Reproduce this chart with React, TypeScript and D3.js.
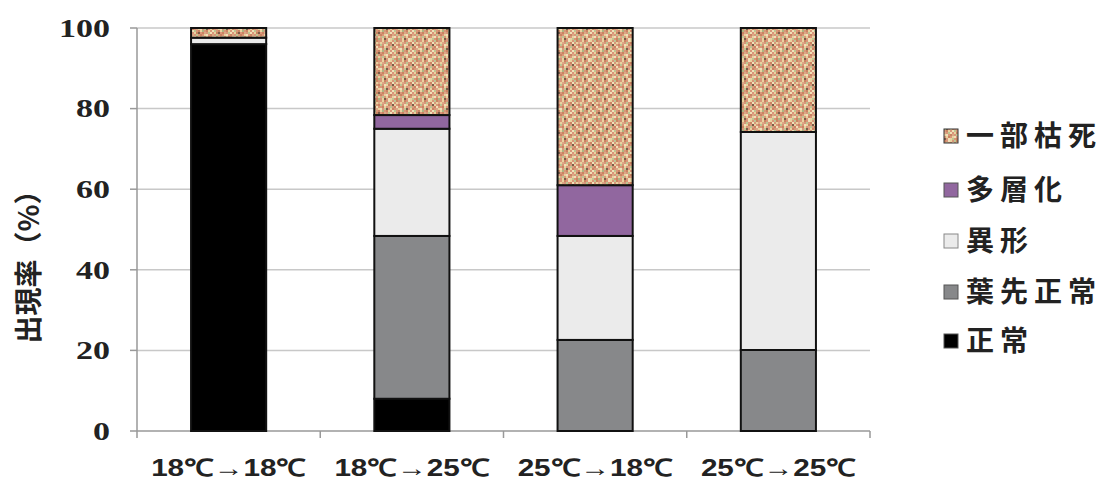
import React from "react";
import * as d3 from "d3";

const categories = ["18℃→18℃", "18℃→25℃", "25℃→18℃", "25℃→25℃"];
const seriesNames = ["正常", "葉先正常", "異形", "多層化", "一部枯死"];
const seriesNormal = [96, 8, 0, 0];
const seriesTipNormal = [0, 40.4, 22.6, 20.1];
const seriesAbnormal = [1.6, 26.6, 25.8, 54.1];
const seriesMulti = [0, 3.4, 12.6, 0];
const seriesDieback = [2.4, 21.6, 39, 25.8];
const yTicks = [0, 20, 40, 60, 80, 100];

const fills = ["#000000", "#87888a", "#ebebeb", "#91679f", "url(#dieback)"];

const W = 1107, H = 482;
const left = 137, right = 870, top = 28, bottom = 431;

export default function App() {
  const x = d3.scaleBand<string>().domain(categories).range([left, right]).paddingInner(0.59).paddingOuter(0.295);
  const y = d3.scaleLinear().domain([0, 100]).range([bottom, top]);
  const rows = categories.map((c, i) => ({
    cat: c,
    v: [seriesNormal[i], seriesTipNormal[i], seriesAbnormal[i], seriesMulti[i], seriesDieback[i]],
  }));
  const stacked = rows.map((r) => {
    let acc = 0;
    return r.v.map((v, k) => {
      const s = { k, y0: acc, y1: acc + v };
      acc += v;
      return s;
    });
  });
  const step = (right - left) / categories.length;
  const boundaries = d3.range(categories.length + 1).map((i) => left + i * step);

  const patCells: { x: number; y: number; c: string }[] = [];
  const palette = ["#d9967a", "#e9d2a0", "#c98462", "#bcc692", "#f0e0b8", "#7a5e48", "#dba886", "#aab682"];
  const pat = [
    [0, 1, 2, 0, 4, 1, 0, 3, 2, 0],
    [1, 6, 0, 3, 0, 2, 4, 0, 1, 6],
    [3, 0, 4, 1, 2, 0, 5, 1, 0, 2],
    [0, 2, 1, 0, 6, 3, 0, 2, 4, 0],
    [4, 0, 3, 5, 0, 1, 2, 0, 6, 1],
    [1, 7, 0, 2, 1, 0, 4, 3, 0, 2],
    [0, 2, 6, 0, 3, 4, 0, 1, 2, 5],
    [2, 0, 1, 4, 0, 2, 6, 0, 3, 0],
    [6, 3, 0, 1, 2, 0, 1, 4, 0, 1],
    [0, 1, 5, 0, 4, 1, 3, 0, 2, 7],
  ];
  pat.forEach((row, j) => row.forEach((k, i) => patCells.push({ x: i * 2, y: j * 2, c: palette[k] })));

  const legendY = [136, 190, 241, 292, 341];
  const legendOrder = [4, 3, 2, 1, 0];

  return (
    <svg width={W} height={H} style={{ display: "block", position: "absolute", left: 0, top: 0 }}>
      <defs>
        <pattern id="dieback" patternUnits="userSpaceOnUse" width={20} height={20}>
          {patCells.map((p, i) => (
            <rect key={i} x={p.x} y={p.y} width={2} height={2} fill={p.c} />
          ))}
        </pattern>
      </defs>
      <rect width={W} height={H} fill="#fff" />
      {yTicks.slice(1).map((t) => (
        <line key={t} x1={left} x2={right} y1={y(t)} y2={y(t)} stroke="#c8c8c8" strokeWidth={1.5} />
      ))}
      {yTicks.map((t) => (
        <g key={"t" + t}>
          <line x1={left - 7} x2={left} y1={y(t)} y2={y(t)} stroke="#999" strokeWidth={1.5} />
          <text
            x={110}
            y={y(t)}
            dy="0.35em"
            textAnchor="end"
            fontFamily="'Liberation Serif', 'DejaVu Serif', serif"
            fontWeight="bold"
            fontSize={25}
            fill="#222"
            textLength={String(t).length * 17}
            lengthAdjust="spacingAndGlyphs"
          >
            {t}
          </text>
        </g>
      ))}
      <line x1={left} x2={left} y1={top} y2={bottom} stroke="#999" strokeWidth={1.5} />
      <line x1={left} x2={right} y1={bottom} y2={bottom} stroke="#999" strokeWidth={1.5} />
      {boundaries.map((b, i) => (
        <line key={"b" + i} x1={b} x2={b} y1={bottom} y2={bottom + 7} stroke="#999" strokeWidth={1.5} />
      ))}
      {stacked.map((segs, i) =>
        segs
          .filter((s) => s.y1 - s.y0 > 0)
          .map((s) => (
            <rect
              key={i + "-" + s.k}
              x={x(categories[i])!}
              y={y(s.y1)}
              width={x.bandwidth()}
              height={y(s.y0) - y(s.y1)}
              fill={fills[s.k]}
              stroke="#111"
              strokeWidth={2}
            />
          ))
      )}
      {categories.map((c) => (
        <text
          key={c}
          x={x(c)! + x.bandwidth() / 2}
          y={476}
          textAnchor="middle"
          fontFamily="'Liberation Sans', Arial, sans-serif"
          fontWeight="bold"
          fontSize={24}
          fill="#222"
          textLength={155}
          lengthAdjust="spacingAndGlyphs"
        >
          {c}
        </text>
      ))}
      <text
        transform={`translate(29,${260}) rotate(-90)`}
        dy="0.35em"
        textAnchor="middle"
        fontFamily="'Noto Sans CJK JP'"
        fontWeight="bold"
        fontSize={28}
        fill="#222"
      >
        出現率（%）
      </text>
      {legendOrder.map((k, i) => (
        <g key={"l" + k}>
          <rect x={944} y={legendY[i] - 7} width={14} height={14} fill={fills[k]} stroke={k === 4 ? "#333" : k === 2 ? "#888" : "#555"} strokeWidth={1} />
          <text x={966} y={legendY[i]} dy="0.35em" fontFamily="'Noto Sans CJK JP'" fontWeight="bold" fontSize={28} fill="#222" letterSpacing={6}>
            {seriesNames[k]}
          </text>
        </g>
      ))}
    </svg>
  );
}
